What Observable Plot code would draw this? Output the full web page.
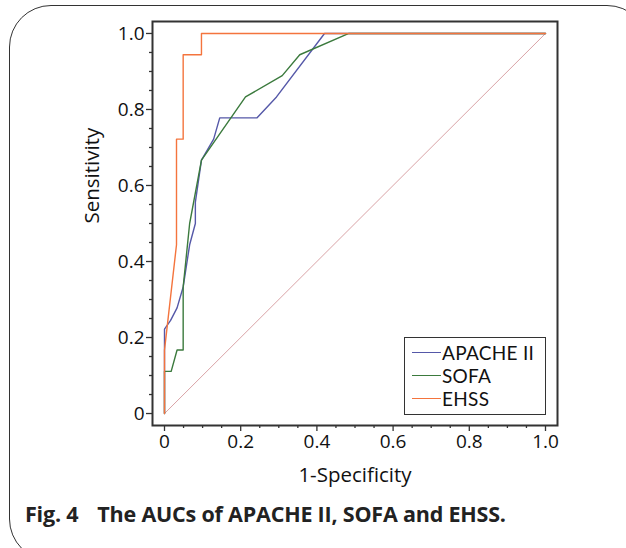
<!DOCTYPE html>
<html><head><meta charset="utf-8">
<script src="https://cdn.jsdelivr.net/npm/d3@7"></script>
<script src="https://cdn.jsdelivr.net/npm/@observablehq/plot@0.6"></script>
<style>
html,body{margin:0;padding:0;background:#fff;overflow:hidden;}
#wrap{position:relative;width:626px;height:548px;overflow:hidden;font-family:"Open Sans",sans-serif;}
#border{position:absolute;left:9px;top:5px;width:640px;height:556px;border:1.5px solid #333;border-radius:42px;box-sizing:border-box;}
#chart{position:absolute;left:0;top:0;}
#legend{position:absolute;left:404px;top:337px;width:142px;height:78px;border:1.5px solid #333;background:#fff;box-sizing:border-box;padding-top:3px;}
.row{display:flex;align-items:center;height:23px;line-height:23px;font-family:Lato,sans-serif;font-size:19px;color:#111;letter-spacing:0.3px;}
.sw{width:29px;height:0;border-top:1.5px solid;margin-left:7px;margin-right:1px;}
#caption{position:absolute;left:25px;top:500px;font-size:21.5px;line-height:28px;font-weight:bold;color:#222;white-space:nowrap;letter-spacing:-0.2px;}
#caption .t{margin-left:19px;}
</style></head>
<body><div id="wrap"><div id="border"></div><div id="chart"></div><div id="legend"></div>
<div id="caption"><span class="f"></span><span class="t"></span></div></div>
<script>
const seriesNames = ["APACHE II", "SOFA", "EHSS"];
const seriesColors = ["#5558a8", "#3b7a3d", "#f4743d"];
const apacheX = [0, 0, 0.016, 0.033, 0.049, 0.066, 0.081, 0.081, 0.097, 0.129, 0.145, 0.243, 0.294, 0.42, 1];
const apacheY = [0, 0.222, 0.245, 0.278, 0.333, 0.444, 0.5, 0.556, 0.667, 0.722, 0.778, 0.778, 0.833, 1, 1];
const sofaX = [0, 0, 0.0175, 0.033, 0.049, 0.049, 0.066, 0.097, 0.2126, 0.309, 0.355, 0.484, 1];
const sofaY = [0, 0.111, 0.111, 0.167, 0.167, 0.333, 0.5, 0.667, 0.833, 0.889, 0.944, 1, 1];
const ehssX = [0, 0, 0.0315, 0.0315, 0.049, 0.049, 0.097, 0.097, 1];
const ehssY = [0, 0.167, 0.444, 0.722, 0.722, 0.944, 0.944, 1, 1];
const diagX = [0, 1];
const diagY = [0, 1];
const majorTicks = [0, 0.2, 0.4, 0.6, 0.8, 1.0];
const yTickLabels = ["0", "0.2", "0.4", "0.6", "0.8", "1.0"];
const xTickLabels = ["0", "0.2", "0.4", "0.6", "0.8", "1.0"];
const minorTicks = [0.05,0.1,0.15,0.25,0.3,0.35,0.45,0.5,0.55,0.65,0.7,0.75,0.85,0.9,0.95];
const xLabel = "1-Specificity";
const yLabel = "Sensitivity";
const captionFig = "Fig. 4";
const captionTitle = "The AUCs of APACHE II, SOFA and EHSS.";

const xs = [apacheX, sofaX, ehssX], ys = [apacheY, sofaY, ehssY];
const data = [];
seriesNames.forEach((s, i) => xs[i].forEach((x, j) => data.push({series: s, x, y: ys[i][j]})));
const diag = diagX.map((x, i) => ({x, y: diagY[i]}));
const pad = 0.0315;
const fmt = (labels) => (d) => labels[majorTicks.findIndex(t => Math.abs(t - d) < 1e-9)] ?? "";

const plot = Plot.plot({
  width: 626, height: 490,
  marginLeft: 152, marginRight: 69, marginTop: 21, marginBottom: 65,
  style: {fontFamily: "'Open Sans', sans-serif", fontSize: "19px", color: "#111", background: "transparent"},
  x: {domain: [-pad, 1 + pad]},
  y: {domain: [-pad, 1 + pad]},
  color: {domain: seriesNames, range: seriesColors},
  marks: [
    Plot.axisX(minorTicks, {tickSize: 3, tickFormat: () => "", strokeWidth: 1.3, stroke: "#333", label: null}),
    Plot.axisY(minorTicks, {tickSize: 3, tickFormat: () => "", strokeWidth: 1.3, stroke: "#333", label: null}),
    Plot.axisX(majorTicks, {tickSize: 6, tickPadding: 3, tickFormat: fmt(xTickLabels), strokeWidth: 1.3, stroke: "#333", fontSize: 19, label: null}),
    Plot.axisY(majorTicks, {tickSize: 6, tickPadding: 2, tickFormat: fmt(yTickLabels), strokeWidth: 1.3, stroke: "#333", fontSize: 19, label: null}),
    Plot.line(diag, {x: "x", y: "y", stroke: "#d9a3a6", strokeWidth: 1}),
    Plot.line(data, {x: "x", y: "y", z: "series", stroke: "series", strokeWidth: 1.4, curve: "linear"}),
    Plot.frame({stroke: "#333", strokeWidth: 2}),
    Plot.text([yLabel], {frameAnchor: "left", dx: -60, rotate: -90, text: d => d, fontSize: 20.5, fill: "#111"}),
    Plot.text([xLabel], {frameAnchor: "bottom", dy: 56, text: d => d, fontSize: 20.5, fill: "#111"})
  ]
});
document.getElementById("chart").appendChild(plot);

const legend = document.getElementById("legend");
seriesNames.forEach((s, i) => {
  const row = document.createElement("div");
  row.className = "row";
  row.innerHTML = `<span class="sw" style="border-color:${seriesColors[i]}"></span><span>${s}</span>`;
  legend.appendChild(row);
});
document.querySelector("#caption .f").textContent = captionFig;
document.querySelector("#caption .t").textContent = captionTitle;
</script>
</body></html>
